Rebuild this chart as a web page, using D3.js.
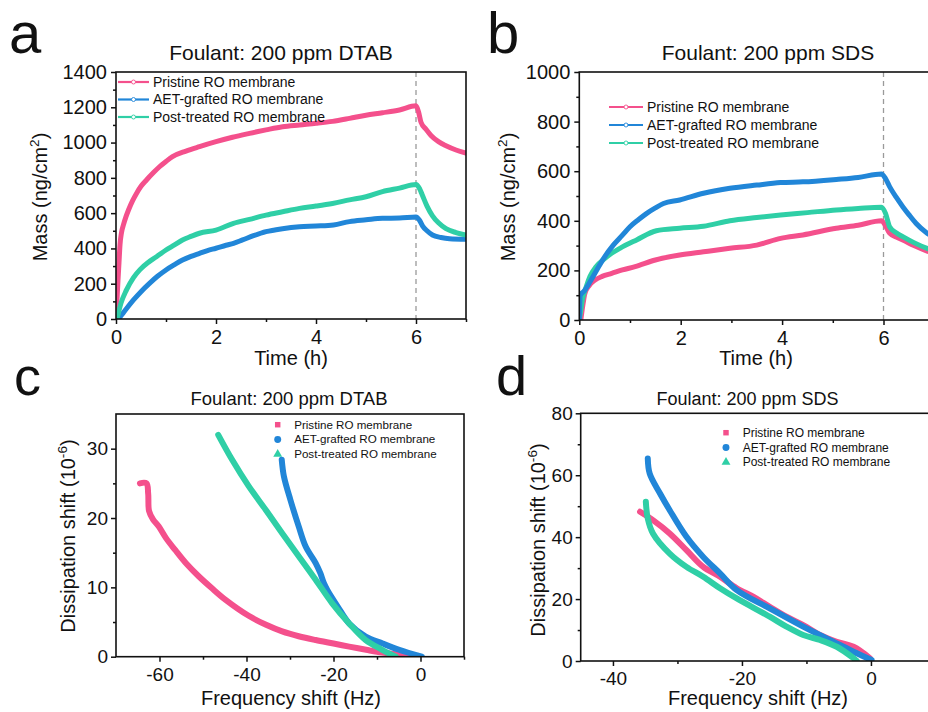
<!DOCTYPE html>
<html><head><meta charset="utf-8">
<script src="https://cdn.jsdelivr.net/npm/d3@7"></script>
<style>body{margin:0;background:#fff} svg{display:block;font-family:Arial,"Liberation Sans",sans-serif}</style>
</head><body><svg id="chart" width="928" height="712"></svg>
<script>
// ---------- DATA ----------
const seriesNames = ["Pristine RO membrane", "AET-grafted RO membrane", "Post-treated RO membrane"];
const seriesColors = ["#f4508c", "#2186d8", "#2fcfa6"];

// Panel a: Mass (ng/cm2) vs Time (h), foulant DTAB
const aPristine = [[0,0],[0.02,110],[0.04,220],[0.06,320],[0.08,420],[0.11,490],[0.15,535],[0.2,580],[0.25,618],[0.33,670],[0.41,712],[0.5,752],[0.61,788],[0.75,830],[0.87,863],[1.0,893],[1.13,920],[1.4,952],[1.67,977],[2.0,1005],[2.33,1030],[2.67,1052],[3.0,1072],[3.33,1090],[3.67,1100],[4.0,1109],[4.33,1120],[4.67,1137],[5.0,1155],[5.33,1169],[5.67,1185],[6.0,1208],[6.05,1175],[6.1,1115],[6.2,1075],[6.3,1040],[6.45,1005],[6.6,982],[6.8,958],[7.0,940]];
const aAET = [[0.05,0],[0.12,25],[0.2,55],[0.35,108],[0.5,155],[0.67,202],[0.83,242],[1.0,278],[1.17,308],[1.33,334],[1.5,355],[1.67,372],[1.83,388],[2.0,401],[2.2,418],[2.35,429],[2.53,448],[2.75,472],[3.0,495],[3.33,512],[3.67,523],[4.0,527],[4.35,533],[4.67,552],[5.0,562],[5.33,571],[5.67,572],[6.0,578],[6.07,560],[6.13,528],[6.22,500],[6.33,476],[6.5,462],[6.67,455],[7.0,452]];
const aPost = [[0.02,0],[0.1,90],[0.21,165],[0.35,235],[0.48,280],[0.65,322],[0.81,353],[1.0,391],[1.17,420],[1.33,448],[1.5,468],[1.67,486],[2.0,504],[2.35,542],[2.67,565],[3.0,589],[3.33,608],[3.67,627],[4.0,640],[4.33,655],[4.67,675],[5.0,693],[5.33,722],[5.67,742],[6.0,762],[6.07,740],[6.13,700],[6.22,640],[6.33,585],[6.45,545],[6.6,512],[6.8,490],[7.0,476]];

// Panel b: Mass (ng/cm2) vs Time (h), foulant SDS
const bPristine = [[0.03,0],[0.07,60],[0.11,107],[0.2,140],[0.31,161],[0.45,176],[0.64,188],[0.85,202],[1.1,215],[1.5,242],[1.98,262],[2.45,275],[2.97,289],[3.5,302],[3.97,329],[4.41,343],[5.07,370],[5.5,382],[5.96,400],[6.04,380],[6.12,350],[6.25,335],[6.38,323],[6.6,300],[6.86,278],[7.0,268]];
const bAET = [[0,0],[0.02,100],[0.1,118],[0.2,150],[0.34,200],[0.5,255],[0.67,302],[0.85,342],[1.0,376],[1.17,405],[1.33,430],[1.5,452],[1.66,470],[1.98,484],[2.45,511],[2.97,531],[3.5,544],[3.97,554],[4.41,557],[5.07,567],[5.5,575],[5.96,589],[6.04,570],[6.12,538],[6.25,495],[6.38,457],[6.5,425],[6.64,390],[6.86,350],[7.0,332]];
const bPost = [[0,0],[0.03,40],[0.06,81],[0.13,130],[0.21,175],[0.33,215],[0.47,242],[0.63,268],[0.8,289],[1.13,323],[1.52,360],[1.98,370],[2.45,378],[2.97,400],[3.5,413],[3.97,423],[4.5,433],[5.07,444],[5.5,450],[5.96,455],[6.04,430],[6.12,376],[6.25,352],[6.38,336],[6.6,312],[6.86,289],[7.0,280]];

// Panel c: Dissipation shift (1e-6) vs Frequency shift (Hz), DTAB
const cPristine = [[-1.8,0],[-5,0.3],[-8.8,0.6],[-12.5,1.0],[-16.4,1.45],[-20,1.9],[-24.1,2.4],[-28,2.95],[-31.8,3.65],[-35.5,4.6],[-39.5,5.9],[-44.8,8.2],[-48,9.9],[-51,11.6],[-53.8,13.4],[-56.4,15.4],[-58.5,17.1],[-60.2,18.8],[-61.5,19.8],[-62.4,21],[-62.6,23.5],[-63,25],[-64.5,25]];
const cAET = [[0.3,0],[-4.9,1.0],[-8.7,1.9],[-12.6,2.9],[-16.4,4.8],[-19,7.2],[-21.4,9.6],[-22.2,10.6],[-23,12],[-24.1,13.5],[-26.4,15.9],[-28,18.8],[-29.9,22.6],[-31.4,26],[-31.9,28.4]];
const cPost = [[-5.7,0],[-8.8,1.0],[-12.6,2.4],[-16.4,4.8],[-20.3,7.7],[-24.1,11.1],[-28,14.5],[-31.8,17.8],[-35.6,21.2],[-39.5,24.6],[-43.3,28.4],[-46.5,32]];

// Panel d: Dissipation shift (1e-6) vs Frequency shift (Hz), SDS
const dPristine = [[-0.15,0.9],[-2.7,4.6],[-5.3,6.2],[-7.9,8.4],[-10.5,11.6],[-13.1,14.3],[-15.7,17.5],[-18.2,20.7],[-20.8,23.5],[-23.4,27.2],[-26,30.4],[-28.6,35.8],[-31.2,41.2],[-33.8,45.5],[-35.8,48.2]];
const dAET = [[0.1,0.3],[-2.7,3.0],[-5.3,5.7],[-10.5,11.1],[-15.7,17],[-20.8,22.9],[-23.4,28.3],[-26,33.6],[-28.6,40.1],[-31.2,48.7],[-32.7,54.1],[-34.3,60.5],[-34.6,65.4]];
const dPost = [[-2.2,0],[-2.7,0.9],[-5.3,4.6],[-7.9,6.8],[-10.5,8.4],[-13.1,11.1],[-15.7,14.3],[-20.8,20.2],[-23.4,23.5],[-26,27.2],[-28.6,30.4],[-31.2,34.7],[-33.8,41.2],[-34.6,46],[-34.9,51.4]];

// Tick values
const timeTicks = [0, 2, 4, 6];
const timeMinor = [1, 3, 5, 7];
const massTicksA = [0, 200, 400, 600, 800, 1000, 1200, 1400];
const massMinorA = [100, 300, 500, 700, 900, 1100, 1300];
const massTicksB = [0, 200, 400, 600, 800, 1000];
const massMinorB = [100, 300, 500, 700, 900];
const freqTicksC = [-60, -40, -20, 0];
const freqMinorC = [-50, -30, -10, 10];
const dissTicksC = [0, 10, 20, 30];
const dissMinorC = [5, 15, 25];
const freqTicksD = [-40, -20, 0];
const freqMinorD = [-30, -10, 10];
const dissTicksD = [0, 20, 40, 60, 80];
const dissMinorD = [10, 30, 50, 70];

// ---------- DRAW ----------
const svg = d3.select("#chart");
const defs = svg.append("defs");

function drawPanel(cfg) {
  const x = d3.scaleLinear().domain(cfg.xDomain).range([cfg.left, cfg.right]);
  const y = d3.scaleLinear().domain(cfg.yDomain).range([cfg.bottom, cfg.top]);
  const g = svg.append("g");
  const clipId = "clip-" + cfg.id;
  defs.append("clipPath").attr("id", clipId).append("rect")
    .attr("x", cfg.left).attr("y", cfg.top)
    .attr("width", cfg.right - cfg.left).attr("height", cfg.bottom - cfg.top);

  if (cfg.vline !== undefined) {
    g.append("line").attr("x1", x(cfg.vline)).attr("x2", x(cfg.vline))
      .attr("y1", cfg.top).attr("y2", cfg.bottom)
      .attr("stroke", "#9a9a9a").attr("stroke-width", 1.3).attr("stroke-dasharray", "5,4");
  }

  const line = d3.line().x(d => x(d[0])).y(d => y(d[1])).curve(cfg.curve);
  const data = g.append("g").attr("clip-path", `url(#${clipId})`);
  cfg.order.forEach(i => {
    data.append("path").datum(cfg.series[i])
      .attr("fill", "none").attr("stroke", seriesColors[i])
      .attr("stroke-width", cfg.lineWidth).attr("stroke-linecap", "round").attr("stroke-linejoin", "round")
      .attr("d", line);
  });

  // frame
  g.append("rect").attr("x", cfg.left).attr("y", cfg.top)
    .attr("width", cfg.right - cfg.left).attr("height", cfg.bottom - cfg.top)
    .attr("fill", "none").attr("stroke", "#111").attr("stroke-width", 1.6);

  const fmt = d => String(d);
  const xa = g.append("g").attr("transform", `translate(0,${cfg.bottom})`)
    .call(d3.axisBottom(x).tickValues(cfg.xTicks).tickSize(5).tickSizeOuter(0).tickPadding(cfg.xPad).tickFormat(fmt));
  const xm = g.append("g").attr("transform", `translate(0,${cfg.bottom})`)
    .call(d3.axisBottom(x).tickValues(cfg.xMinor.filter(v => x(v) <= 928)).tickSize(3).tickSizeOuter(0).tickFormat(""));
  const ya = g.append("g").attr("transform", `translate(${cfg.left},0)`)
    .call(d3.axisLeft(y).tickValues(cfg.yTicks).tickSize(5).tickSizeOuter(0).tickPadding(cfg.yPad).tickFormat(fmt));
  const ym = g.append("g").attr("transform", `translate(${cfg.left},0)`)
    .call(d3.axisLeft(y).tickValues(cfg.yMinor).tickSize(3).tickSizeOuter(0).tickFormat(""));
  [xa, xm, ya, ym].forEach(a => {
    a.select(".domain").remove();
    a.selectAll("line").attr("stroke", "#111").attr("stroke-width", 1.5);
    a.selectAll("text").attr("fill", "#111").style("font-size", cfg.tickFont + "px").style("font-family", "Arial, 'Liberation Sans', sans-serif");
  });

  // title
  g.append("text").attr("x", cfg.titleX).attr("y", cfg.titleY).attr("text-anchor", "middle")
    .style("font-size", cfg.titleFont + "px").attr("fill", "#111").text(cfg.title);
  // panel letter
  g.append("text").attr("x", cfg.letterX).attr("y", cfg.letterY)
    .style("font-size", cfg.letterFont + "px").attr("fill", "#111").text(cfg.letter);
  // x label
  g.append("text").attr("x", cfg.xLabelX).attr("y", cfg.xLabelY).attr("text-anchor", "middle")
    .style("font-size", cfg.labelFont + "px").attr("fill", "#111").text(cfg.xLabel);
  // y label with superscript
  const yl = g.append("text").attr("transform", `translate(${cfg.yLabelX},${cfg.yLabelY}) rotate(-90)`)
    .attr("text-anchor", "middle").style("font-size", cfg.labelFont + "px").attr("fill", "#111");
  yl.append("tspan").text(cfg.yLabel[0]);
  yl.append("tspan").attr("dy", -cfg.labelFont * 0.4).style("font-size", (cfg.labelFont * 0.68) + "px").text(cfg.yLabel[1]);
  yl.append("tspan").attr("dy", cfg.labelFont * 0.4).text(cfg.yLabel[2]);

  // legend
  const lg = g.append("g");
  seriesNames.forEach((name, i) => {
    const yy = cfg.legY + i * cfg.legStep;
    if (cfg.legType === "line") {
      lg.append("line").attr("x1", cfg.legX).attr("x2", cfg.legX + cfg.legLen).attr("y1", yy).attr("y2", yy)
        .attr("stroke", seriesColors[i]).attr("stroke-width", 2.2);
      lg.append("circle").attr("cx", cfg.legX + cfg.legLen / 2).attr("cy", yy).attr("r", 2)
        .attr("fill", "#fff").attr("stroke", seriesColors[i]).attr("stroke-width", 0.9);
      lg.append("text").attr("x", cfg.legX + cfg.legLen + 4).attr("y", yy).attr("dy", "0.35em")
        .style("font-size", cfg.legFont + "px").attr("fill", "#111").text(name);
    } else {
      const sym = [d3.symbolSquare, d3.symbolCircle, d3.symbolTriangle][i];
      const size = [30, 38, 34][i];
      lg.append("path").attr("d", d3.symbol().type(sym).size(size)())
        .attr("transform", `translate(${cfg.legX},${yy})`).attr("fill", seriesColors[i]);
      lg.append("text").attr("x", cfg.legX + cfg.legTextDx).attr("y", yy).attr("dy", "0.35em")
        .style("font-size", cfg.legFont + "px").attr("fill", "#111").text(name);
    }
  });
}

drawPanel({
  id: "a", letter: "a", letterX: 9, letterY: 53, letterFont: 58,
  title: "Foulant: 200 ppm DTAB", titleX: 281, titleY: 60, titleFont: 21,
  left: 116, right: 466, top: 72, bottom: 319,
  xDomain: [0, 7], yDomain: [0, 1400],
  xTicks: timeTicks, xMinor: timeMinor, yTicks: massTicksA, yMinor: massMinorA,
  xPad: 6, yPad: 4, tickFont: 20,
  xLabel: "Time (h)", xLabelX: 291, xLabelY: 365, labelFont: 20,
  yLabel: ["Mass (ng/cm", "2", ")"], yLabelX: 47, yLabelY: 197,
  series: [aPristine, aAET, aPost], order: [0, 1, 2], curve: d3.curveMonotoneX, lineWidth: 5, vline: 6,
  legType: "line", legX: 118, legLen: 31, legY: 82, legStep: 17.5, legFont: 14
});

drawPanel({
  id: "b", letter: "b", letterX: 487, letterY: 53, letterFont: 58,
  title: "Foulant: 200 ppm SDS", titleX: 768, titleY: 60, titleFont: 21,
  left: 579.3, right: 579.3 + 7 * 50.7, top: 72, bottom: 320,
  xDomain: [0, 7], yDomain: [0, 1000],
  xTicks: timeTicks, xMinor: timeMinor, yTicks: massTicksB, yMinor: massMinorB,
  xPad: 6, yPad: 4, tickFont: 20,
  xLabel: "Time (h)", xLabelX: 756, xLabelY: 365, labelFont: 20,
  yLabel: ["Mass (ng/cm", "2", ")"], yLabelX: 515, yLabelY: 197,
  series: [bPristine, bAET, bPost], order: [0, 2, 1], curve: d3.curveMonotoneX, lineWidth: 5, vline: 6,
  legType: "line", legX: 609, legLen: 34, legY: 107, legStep: 18, legFont: 14
});

drawPanel({
  id: "c", letter: "c", letterX: 14, letterY: 395, letterFont: 54,
  title: "Foulant: 200 ppm DTAB", titleX: 289, titleY: 405, titleFont: 18.5,
  left: 116, right: 464, top: 414, bottom: 656.7,
  xDomain: [-70, 10], yDomain: [0, 35],
  xTicks: freqTicksC, xMinor: freqMinorC, yTicks: dissTicksC, yMinor: dissMinorC,
  xPad: 6, yPad: 3, tickFont: 19,
  xLabel: "Frequency shift (Hz)", xLabelX: 291, xLabelY: 705, labelFont: 20,
  yLabel: ["Dissipation shift (10", "-6", ")"], yLabelX: 75, yLabelY: 536,
  series: [cPristine, cAET, cPost], order: [0, 1, 2], curve: d3.curveCatmullRom, lineWidth: 6,
  legType: "sym", legX: 277.7, legTextDx: 16.5, legY: 424.7, legStep: 14.7, legFont: 11.6
});

drawPanel({
  id: "d", letter: "d", letterX: 496, letterY: 395, letterFont: 56,
  title: "Foulant: 200 ppm SDS", titleX: 747.5, titleY: 405, titleFont: 18,
  left: 580.7, right: 580.7 + 55 * 6.45, top: 413.3, bottom: 661,
  xDomain: [-45, 10], yDomain: [0, 80],
  xTicks: freqTicksD, xMinor: freqMinorD, yTicks: dissTicksD, yMinor: dissMinorD,
  xPad: 5.5, yPad: 3, tickFont: 19,
  xLabel: "Frequency shift (Hz)", xLabelX: 758, xLabelY: 705, labelFont: 20,
  yLabel: ["Dissipation shift (10", "-6", ")"], yLabelX: 545, yLabelY: 540,
  series: [dPristine, dAET, dPost], order: [0, 1, 2], curve: d3.curveCatmullRom, lineWidth: 6,
  legType: "sym", legX: 726, legTextDx: 16.7, legY: 432.7, legStep: 14.7, legFont: 12
});
</script></body></html>
